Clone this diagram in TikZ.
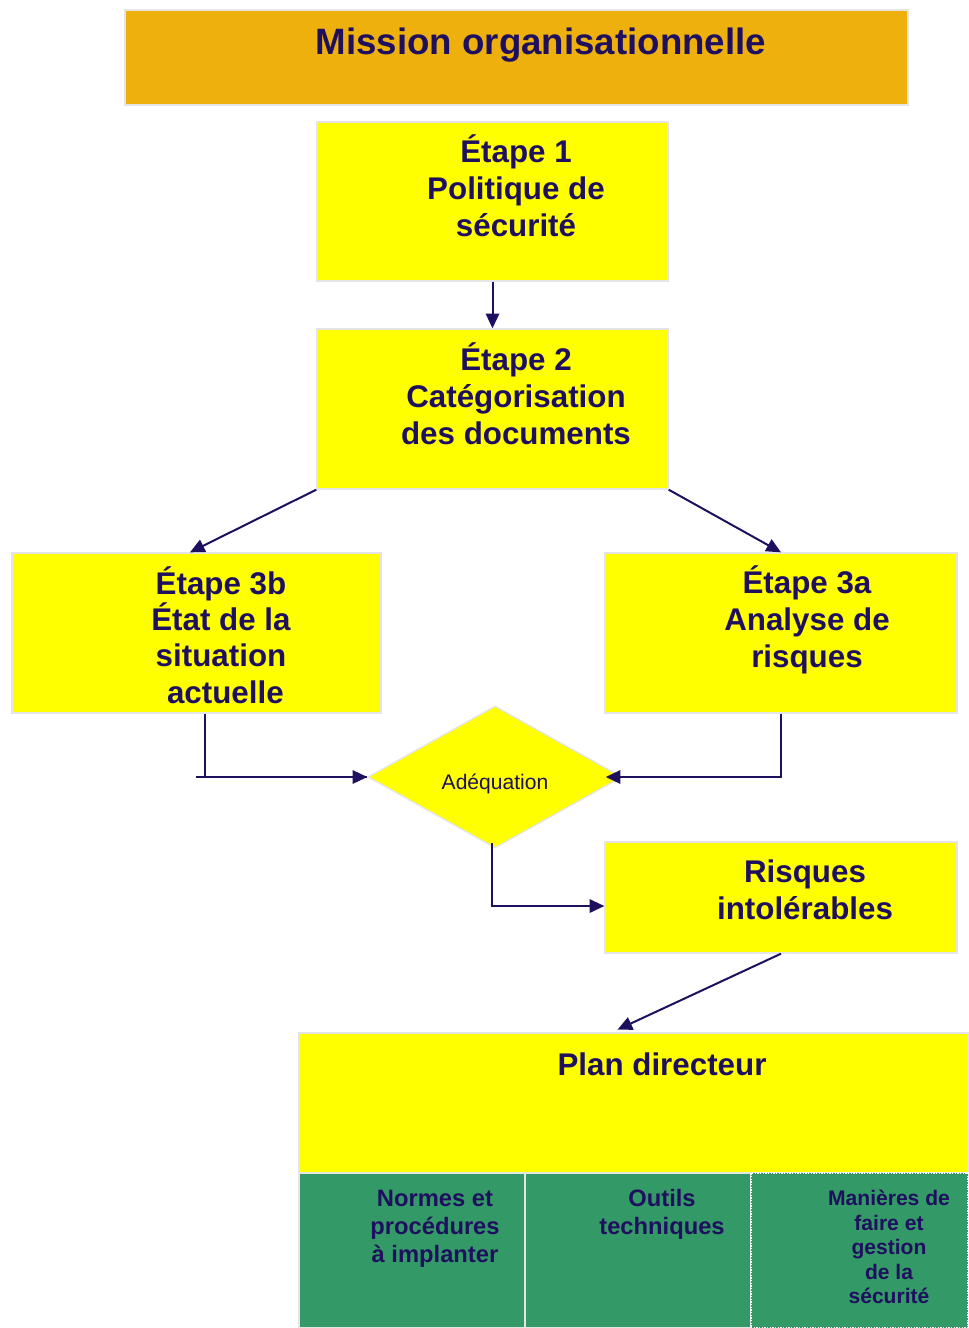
\documentclass[tikz,border=0pt]{standalone}
\usepackage{fontspec}
\setmainfont{Liberation Sans}
\usetikzlibrary{positioning, shapes.geometric, arrows.meta}
\definecolor{ink}{RGB}{31,15,95}
\definecolor{gold}{RGB}{238,176,13}
\definecolor{leaf}{RGB}{51,153,102}
\definecolor{lemon}{RGB}{255,255,0}

\begin{document}
\begin{tikzpicture}[
        x=0.75pt, y=-0.75pt,
        box/.style={draw=gray!20, line width=1pt, fill=lemon, inner sep=0pt},
        cell/.style={box, fill=leaf, minimum height=116.25pt},
        txt/.style={text=ink, align=center, inner sep=0pt, font=\bfseries\fontsize{23.5}{27.75}\selectfont},
        small/.style={txt, font=\bfseries\fontsize{17.8}{21}\selectfont},
        arrow/.style={-{Triangle[length=11pt, width=10pt]}, line width=1.5pt, ink},
        link/.style={line width=1.5pt, ink},
    ]
        \useasboundingbox (0,0) rectangle (968,1328);

        % Top band
        \node[box, fill=gold, minimum width=587.25pt, minimum height=71.25pt] (mission) at (516.5,57.5) {};
        \node[txt, font=\bfseries\fontsize{27.5}{33}\selectfont] (missiont) at (541,45) {Mission organisationnelle};

        % Steps
        \node[box, minimum width=263.25pt, minimum height=119.25pt] (e1) at (492.5,201.5) {};
        \node[txt] (e1t) at (516,186) {Étape 1\\Politique de\\sécurité};

        \node[box, minimum width=263.25pt, minimum height=120pt] (e2) at (492.5,409) {};
        \node[txt] (e2t) at (516,394) {Étape 2\\Catégorisation\\des documents};

        \node[box, minimum width=276.75pt, minimum height=120pt] (e3b) at (196.5,633) {};
        \node[txt, font=\bfseries\fontsize{23.5}{27.3}\selectfont] (e3bt) at (221,635) {Étape 3b\\État de la\\situation\\\hspace*{0.28em}actuelle};

        \node[box, minimum width=264pt, minimum height=120pt] (e3a) at (781,633) {};
        \node[txt] (e3at) at (807,620) {Étape 3a\\Analyse de\\risques};

        % Decision
        \node[diamond, fill=lemon, draw=gray!20, line width=1pt, inner sep=0pt,
              minimum width=190.5pt, minimum height=106.5pt, aspect=1.79] (adeq) at (495,777) {};
        \node[txt, font=\fontsize{15.8}{19}\selectfont] (adeqt) at (495,784) {Adéquation};

        \node[box, minimum width=264pt, minimum height=83.25pt] (risk) at (781,897.5) {};
        \node[txt] (riskt) at (805,890) {Risques\\intolérables};

        % Master plan and its three parts
        \node[box, minimum width=501.75pt, minimum height=105pt] (plan) at (633.5,1103) {};
        \node[txt] (plant) at (662,1064) {Plan directeur};

        \node[cell, minimum width=169.5pt] (g1) at (412,1250.5) {};
        \node[cell, minimum width=169.5pt] (g2) at (638,1250.5) {};
        \node[cell, minimum width=162.75pt, draw=white, densely dotted] (g3) at (859.5,1250.5) {};
        \node[small] (g1t) at (435,1229) {Normes et\\procédures\\à implanter};
        \node[small] (g2t) at (662,1214) {Outils\\techniques};
        \node[small, font=\bfseries\fontsize{15.8}{18.4}\selectfont] (g3t) at (889,1247) {Manières de\\faire et\\gestion\\de la\\sécurité};

        \coordinate (stub) at (196,777);

        % Connectors
        \draw[arrow] (e1) -- (e2);
        \draw[arrow] (e2.south west) -- ([xshift=-4.9pt]e3b.north);
        \draw[arrow] (e2.south east) -- (e3a.north);
        \draw[link] ([xshift=6.4pt]e3b.south) |- (adeq.west);
        \draw[arrow] (stub) -- (adeq.west);
        \draw[arrow] (e3a.south) |- ([xshift=-12.75pt]adeq.east);
        \draw[arrow] ([xshift=-2.25pt, yshift=4.5pt]adeq.south) |- ([yshift=-6.4pt]risk.west);
        \draw[arrow] (risk.south) -- ([xshift=-12pt, yshift=2pt]plan.north);
    \end{tikzpicture}
\end{document}
